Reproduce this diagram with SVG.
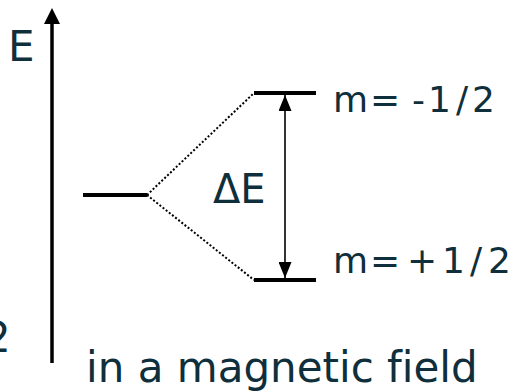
<svg xmlns="http://www.w3.org/2000/svg" width="523" height="391" viewBox="0 0 523 391">
<style>
.t{font-family:"DejaVu Sans","Verdana",sans-serif;fill:#0e2f3b;font-variant-ligatures:none}
.lvl{stroke:#000;stroke-width:4;fill:none}
.dot{stroke:#000;stroke-width:2;stroke-dasharray:2 2;fill:none}
.ax{stroke:#000;stroke-width:3.5;fill:none}
.dim{stroke:#000;stroke-width:1.6;fill:none}
</style>
<defs>
<marker id="ah" viewBox="0 0 16 13" refX="16" refY="6.5" markerWidth="16" markerHeight="13" markerUnits="userSpaceOnUse" orient="auto-start-reverse">
<path d="M0,0 L16,6.5 L0,13 Z" fill="#000"/>
</marker>
</defs>
<g id="axis">
<line class="ax" x1="52" y1="363" x2="52" y2="22"/>
<polygon points="52,8 44,24 60,24" fill="#000"/>
<text class="t" x="8" y="61" font-size="42">E</text>
</g>
<g id="cut-label">
<text class="t" x="-16" y="352" font-size="42">2</text>
</g>
<g id="level-base">
<line class="lvl" x1="83" y1="195" x2="147" y2="195"/>
</g>
<g id="level-upper">
<line class="lvl" x1="254" y1="93" x2="316" y2="93"/>
<text class="t" font-size="36" x="333 370 412 428 456 472" y="112">m=-1/2</text>
</g>
<g id="level-lower">
<line class="lvl" x1="254" y1="280" x2="316" y2="280"/>
<text class="t" font-size="36" x="333 370 407 442 470 488" y="273">m=+1/2</text>
</g>
<g id="connectors">
<line class="dot" x1="147" y1="195" x2="254" y2="93"/>
<line class="dot" x1="147" y1="195" x2="254" y2="280"/>
<line class="dim" x1="285" y1="95" x2="285" y2="278" marker-start="url(#ah)" marker-end="url(#ah)"/>
</g>
<g id="delta-label">
<text class="t" x="213" y="203" font-size="40">ΔE</text>
</g>
<g id="caption">
<text class="t" x="86" y="382" font-size="42">in a magnetic field</text>
</g>
</svg>
